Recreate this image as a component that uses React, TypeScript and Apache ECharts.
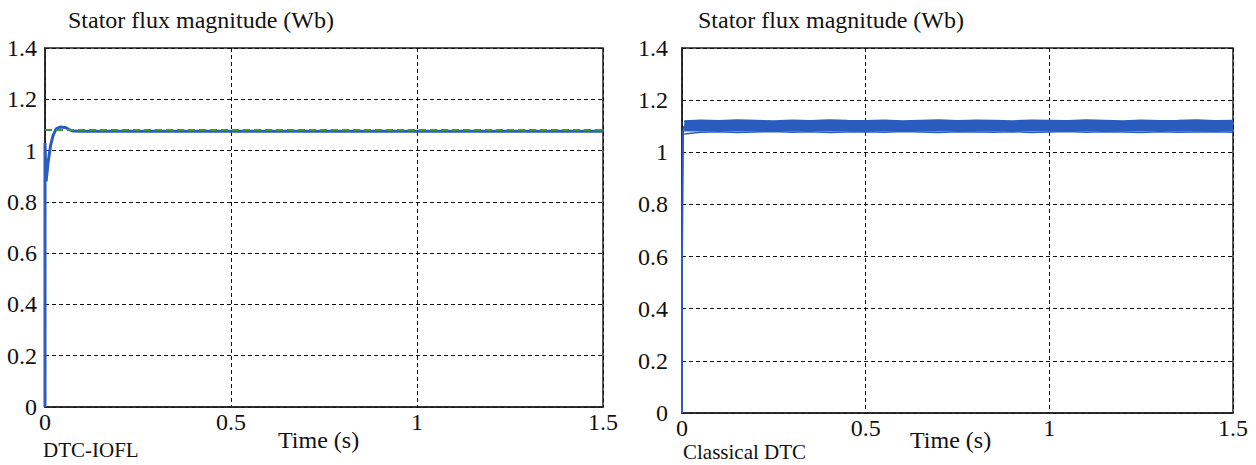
import React, { useEffect, useRef } from "react";
import * as echarts from "echarts";

// ---- data ----
const xTicks = [0, 0.5, 1, 1.5];
const yTicks = [0, 0.2, 0.4, 0.6, 0.8, 1, 1.2, 1.4];

// Left chart (DTC-IOFL)
const iofRefT = [0, 1.5];
const iofRefV = [1.08, 1.08];
const iofT = [0, 0, 0.003, 0.008, 0.015, 0.022, 0.03, 0.04, 0.055, 0.065, 0.075, 0.1, 0.3, 0.6, 0.9, 1.2, 1.5];
const iofV = [0, 1.03, 0.88, 0.95, 1.02, 1.06, 1.085, 1.092, 1.09, 1.082, 1.076, 1.075, 1.075, 1.075, 1.075, 1.075, 1.075];

// Right chart (Classical DTC)
const dtcStartT = [0, 0, 0.003, 0.006];
const dtcStartV = [0, 0.6, 1.08, 1.1];
const bandBase = 1.08;
const bandT = [0.006, 0.05, 0.1, 0.15, 0.2, 0.25, 0.3, 0.35, 0.4, 0.45, 0.5, 0.55, 0.6, 0.65, 0.7, 0.75, 0.8, 0.85, 0.9, 0.95, 1.0, 1.05, 1.1, 1.15, 1.2, 1.25, 1.3, 1.35, 1.4, 1.45, 1.5];
const bandLow = [1.07, 1.077, 1.079, 1.076, 1.078, 1.08, 1.077, 1.079, 1.076, 1.078, 1.079, 1.077, 1.08, 1.078, 1.076, 1.079, 1.078, 1.077, 1.079, 1.076, 1.078, 1.08, 1.077, 1.079, 1.078, 1.076, 1.079, 1.077, 1.078, 1.079, 1.077];
const bandHigh = [1.12, 1.123, 1.121, 1.124, 1.122, 1.12, 1.123, 1.121, 1.124, 1.122, 1.121, 1.123, 1.12, 1.122, 1.124, 1.121, 1.123, 1.122, 1.12, 1.123, 1.122, 1.121, 1.124, 1.122, 1.12, 1.123, 1.121, 1.122, 1.124, 1.121, 1.122];

const titleText = "Stator flux magnitude (Wb)";
const xName = "Time (s)";
const leftLabel = "DTC-IOFL";
const rightLabel = "Classical DTC";

const FONT = '"Liberation Serif", "Times New Roman", Times, FreeSerif, "Nimbus Roman", "DejaVu Serif", serif';
const BLUE = "#2a5cc0";
const GREEN = "#3c9a3c";

function fmt(v: number) {
  return String(Math.round(v * 10) / 10);
}

export default function App() {
  const ref = useRef<HTMLDivElement>(null);
  useEffect(() => {
    if (!ref.current) return;
    const chart = echarts.init(ref.current, undefined, { renderer: "svg" });

    const grids = [
      { left: 45, top: 48, width: 558, height: 359 },
      { left: 682, top: 48, width: 551, height: 365 },
    ];
    const splitLine = { show: true, lineStyle: { color: "#111", width: 1, type: [4, 3] as any } };
    const axisLine = { show: true, onZero: false, lineStyle: { color: "#222", width: 1.5 } };

    const xAxes = [0, 1].map((i) => ({
      type: "value",
      gridIndex: i,
      min: 0,
      max: 1.5,
      interval: 0.5,
      axisLine,
      axisTick: { show: false },
      splitLine,
      axisLabel: {
        fontFamily: FONT,
        fontSize: 24,
        lineHeight: 20,
        color: "#111",
        margin: i === 0 ? 5 : 5,
        formatter: (v: number) => (xTicks.indexOf(v) >= 0 ? fmt(v) : ""),
      },
    }));
    const yAxes = [0, 1].map((i) => ({
      type: "value",
      gridIndex: i,
      min: 0,
      max: 1.4,
      interval: 0.2,
      axisLine,
      axisTick: { show: false },
      splitLine,
      axisLabel: {
        fontFamily: FONT,
        fontSize: 24,
        color: "#111",
        margin: i === 0 ? 8 : 14,
        formatter: (v: number) => (yTicks.some((t) => Math.abs(t - v) < 1e-9) ? fmt(v) : ""),
      },
    }));

    const zip = (a: number[], b: number[]) => a.map((x, k) => [x, b[k]]);
    const txt = (left: number, top: number, text: string, size: number) => ({
      type: "text",
      left,
      top,
      style: { text, fontFamily: FONT, fontSize: size, fill: "#111" },
    });

    chart.setOption({
      animation: false,
      backgroundColor: "#ffffff",
      grid: grids.map((g) => ({ ...g, show: true, borderColor: "#222", borderWidth: 1.5, backgroundColor: "transparent" })),
      xAxis: xAxes,
      yAxis: yAxes,
      series: [
        {
          type: "line",
          xAxisIndex: 0,
          yAxisIndex: 0,
          data: zip(iofT, iofV),
          showSymbol: false,
          lineStyle: { color: BLUE, width: 3 },
          z: 3,
        },
        {
          type: "line",
          xAxisIndex: 0,
          yAxisIndex: 0,
          data: zip(iofRefT, iofRefV),
          showSymbol: false,
          lineStyle: { color: GREEN, width: 2, type: [7, 4] },
          z: 4,
        },
        {
          type: "line",
          xAxisIndex: 1,
          yAxisIndex: 1,
          data: zip(dtcStartT, dtcStartV),
          showSymbol: false,
          lineStyle: { color: BLUE, width: 2 },
          z: 3,
        },
        {
          type: "line",
          xAxisIndex: 1,
          yAxisIndex: 1,
          data: zip(bandT, bandHigh),
          showSymbol: false,
          lineStyle: { color: BLUE, width: 1.5 },
          areaStyle: { color: BLUE, opacity: 1, origin: bandBase },
          z: 3,
        },
        {
          type: "line",
          xAxisIndex: 1,
          yAxisIndex: 1,
          data: zip(bandT, bandLow),
          showSymbol: false,
          lineStyle: { color: BLUE, width: 1.5 },
          z: 3,
        },
      ],
      graphic: [
        txt(68, 8, titleText, 24),
        txt(698, 8, titleText, 24),
        txt(278, 428, xName, 24),
        txt(910, 428, xName, 24),
        txt(43, 439, leftLabel, 21),
        txt(683, 441, rightLabel, 21),
      ],
    });
    return () => chart.dispose();
  }, []);
  return (
    <div
      ref={ref}
      style={{ position: "fixed", left: 0, top: 0, width: 1256, height: 465, background: "#fff" }}
    />
  );
}
